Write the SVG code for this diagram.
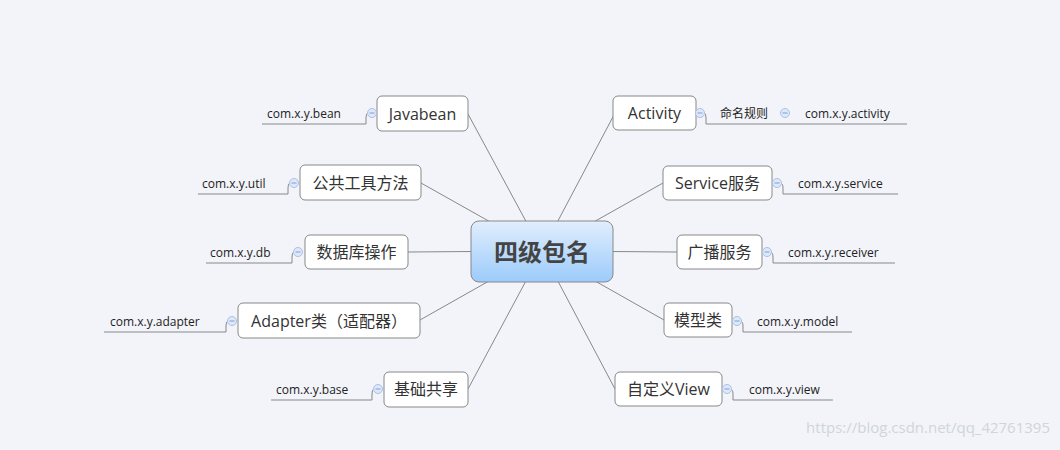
<svg xmlns="http://www.w3.org/2000/svg" width="1060" height="450" viewBox="0 0 1060 450">
<defs>
<linearGradient id="g" x1="0" y1="0" x2="0" y2="1"><stop offset="0" stop-color="#e1eefd"/><stop offset="1" stop-color="#9ccbfb"/></linearGradient>
<g id="minus"><circle r="4.5" fill="#dfe8f8" stroke="#a9c0e8" stroke-width="1"/><line x1="-2.5" y1="0" x2="2.5" y2="0" stroke="#7f9fd6" stroke-width="1"/></g>
</defs>
<style>
.n{fill:#fff;stroke:#888;stroke-width:1}
.t{font-family:"Open Sans","Noto Sans CJK SC",sans-serif;font-size:16px;fill:#333;text-anchor:middle;dominant-baseline:central}
.s{font-family:"Open Sans","Noto Sans CJK SC",sans-serif;font-size:12px;fill:#222;dominant-baseline:central}
.c{stroke:#888;stroke-width:1;fill:none}
</style>
<rect width="1060" height="450" fill="#f2f4f9"/>
<g id="connectors">
<line class="c" x1="542" y1="251" x2="468" y2="114"/>
<line class="c" x1="542" y1="251" x2="421" y2="183"/>
<line class="c" x1="542" y1="251" x2="408" y2="252"/>
<line class="c" x1="542" y1="251" x2="420" y2="320"/>
<line class="c" x1="542" y1="251" x2="468" y2="389"/>
<line class="c" x1="542" y1="251" x2="615" y2="113"/>
<line class="c" x1="542" y1="251" x2="663" y2="183"/>
<line class="c" x1="542" y1="251" x2="677" y2="252"/>
<line class="c" x1="542" y1="251" x2="664" y2="320"/>
<line class="c" x1="542" y1="251" x2="615" y2="389"/>
<path class="c" d="M704 113 Q706 113 706 118 V124 H907"/>
<path class="c" d="M780 183 Q783 183 783 188 V194 H898"/>
<path class="c" d="M770 252 Q773 252 773 257 V263 H895"/>
<path class="c" d="M740 321 Q743 321 743 326 V332 H852"/>
<path class="c" d="M730 389 Q733 389 733 394 V400 H833"/>
<path class="c" d="M368 113 Q366 113 366 118 V124 H262"/>
<path class="c" d="M290 183 Q288 183 288 188 V194 H198"/>
<path class="c" d="M294 252 Q292 252 292 257 V263 H206"/>
<path class="c" d="M228 321 Q226 321 226 326 V332 H104"/>
<path class="c" d="M374 389 Q372 389 372 394 V400 H271"/>
</g>
<g id="center"><rect x="471" y="221" width="142" height="61" rx="8" fill="url(#g)" stroke="#888"/><text class="t" x="542" y="251.5" style="font-size:24px;font-weight:bold;fill:#444">四级包名</text></g>
<g id="activity"><rect class="n" x="613" y="96" width="83" height="34" rx="5"/><text class="t" x="654.5" y="113">Activity</text><use href="#minus" x="700" y="113"/><text class="s" x="720" y="113">命名规则</text><use href="#minus" x="785" y="113"/><text class="s" x="805" y="113">com.x.y.activity</text></g>
<g id="service"><rect class="n" x="663" y="166" width="109" height="34" rx="5"/><text class="t" x="717.5" y="183">Service服务</text><use href="#minus" x="777" y="183"/><text class="s" x="798" y="183">com.x.y.service</text></g>
<g id="receiver"><rect class="n" x="677" y="235" width="85" height="34" rx="5"/><text class="t" x="719.5" y="252">广播服务</text><use href="#minus" x="767" y="252"/><text class="s" x="788" y="252">com.x.y.receiver</text></g>
<g id="model"><rect class="n" x="664" y="303" width="68" height="34" rx="5"/><text class="t" x="698" y="320">模型类</text><use href="#minus" x="737" y="321"/><text class="s" x="757" y="321">com.x.y.model</text></g>
<g id="view"><rect class="n" x="615" y="372" width="107" height="34" rx="5"/><text class="t" x="668.5" y="389">自定义View</text><use href="#minus" x="727" y="389"/><text class="s" x="749" y="389">com.x.y.view</text></g>
<g id="javabean"><rect class="n" x="377" y="96" width="91" height="35" rx="5"/><text class="t" x="422.5" y="114">Javabean</text><use href="#minus" x="372" y="113"/><text class="s" x="267" y="113">com.x.y.bean</text></g>
<g id="util"><rect class="n" x="300" y="165" width="121" height="35" rx="5"/><text class="t" x="360.5" y="183">公共工具方法</text><use href="#minus" x="294" y="183"/><text class="s" x="202" y="183">com.x.y.util</text></g>
<g id="db"><rect class="n" x="305" y="235" width="103" height="34" rx="5"/><text class="t" x="356.5" y="252">数据库操作</text><use href="#minus" x="298" y="252"/><text class="s" x="210" y="252">com.x.y.db</text></g>
<g id="adapter"><rect class="n" x="238" y="303" width="182" height="35" rx="5"/><text class="t" x="329" y="321">Adapter类（适配器）</text><use href="#minus" x="232" y="321"/><text class="s" x="110" y="321">com.x.y.adapter</text></g>
<g id="base"><rect class="n" x="384" y="372" width="84" height="35" rx="5"/><text class="t" x="426" y="389">基础共享</text><use href="#minus" x="378" y="389"/><text class="s" x="276" y="389">com.x.y.base</text></g>
<text x="1050" y="433" text-anchor="end" style="font-family:'Open Sans',sans-serif;font-size:15px;fill:#d0d4dc">https://blog.csdn.net/qq_42761395</text>
</svg>
